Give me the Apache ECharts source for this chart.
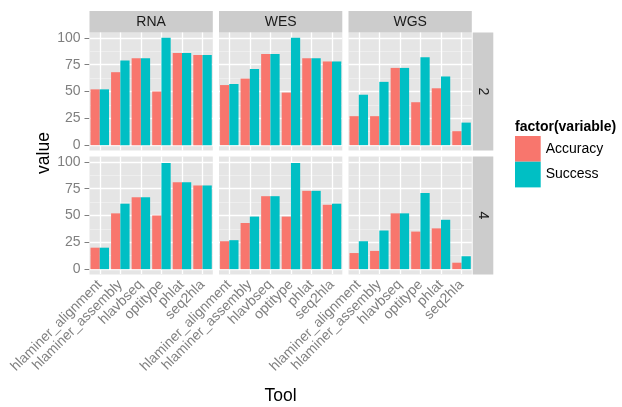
<!DOCTYPE html>
<html>
<head>
<meta charset="utf-8">
<script src="https://cdn.jsdelivr.net/npm/echarts@6/dist/echarts.min.js"></script>
<style>html,body{margin:0;padding:0;background:#fff}#c{width:622px;height:407px}</style>
</head>
<body>
<div id="c"></div>
<script>
// ---- data ----
const categories = ['hlaminer_alignment','hlaminer_assembly','hlavbseq','optitype','phlat','seq2hla'];
const colFacets = ['RNA','WES','WGS'];
const rowFacets = ['2','4'];
const seriesNames = ['Accuracy','Success'];
const yTicks = [0,25,50,75,100];
const yMinor = [12.5,37.5,62.5,87.5];

const accuracy_RNA_2 = [52,68,81,50,86,84];
const success_RNA_2  = [52,79,81,100,86,84];
const accuracy_WES_2 = [56,62,85,49,81,78];
const success_WES_2  = [57,71,85,100,81,78];
const accuracy_WGS_2 = [27,27,72,40,53,13];
const success_WGS_2  = [47,59,72,82,64,21];
const accuracy_RNA_4 = [20,52,67,50,81,78];
const success_RNA_4  = [20,61,67,99,81,78];
const accuracy_WES_4 = [26,43,68,49,73,60];
const success_WES_4  = [27,49,68,99,73,61];
const accuracy_WGS_4 = [15,17,52,35,38,6];
const success_WGS_4  = [26,36,52,71,46,12];

const panelData = {
  'RNA_2': [accuracy_RNA_2, success_RNA_2],
  'WES_2': [accuracy_WES_2, success_WES_2],
  'WGS_2': [accuracy_WGS_2, success_WGS_2],
  'RNA_4': [accuracy_RNA_4, success_RNA_4],
  'WES_4': [accuracy_WES_4, success_WES_4],
  'WGS_4': [accuracy_WGS_4, success_WGS_4]
};

// ---- layout / style ----
const FONT = '"Liberation Sans", Arial, Helvetica, sans-serif';
const colLefts = [89.5, 219, 348.5];
const colW = 123.3;
const rowTops = [32.5, 156.5];
const rowH = 118;
const stripTop = 11;
const stripRightX = 472.7, stripRightW = 20.6;
const colors = ['#F8766D', '#00BFC4'];
const gray = '#7F7F7F';

const grids = [], xAxes = [], yAxes = [], series = [], graphics = [];

rowFacets.forEach((rf, r) => {
  colFacets.forEach((cf, c) => {
    const idx = r * 3 + c;
    grids.push({
      left: colLefts[c], top: rowTops[r], width: colW, height: rowH,
      show: true, backgroundColor: '#E5E5E5', borderWidth: 0, containLabel: false
    });
    xAxes.push({
      type: 'category', gridIndex: idx, data: categories,
      axisLine: {show: false},
      axisTick: {show: r === 1, alignWithLabel: true, length: 5, lineStyle: {color: gray, width: 1}},
      axisLabel: {show: r === 1, rotate: 45, interval: 0, fontSize: 14, color: gray, fontFamily: FONT, margin: 8},
      splitLine: {show: false}
    });
    yAxes.push({
      type: 'value', gridIndex: idx, min: -5, max: 105,
      axisLine: {show: false},
      axisTick: {show: c === 0, length: 5, customValues: yTicks, lineStyle: {color: gray, width: 1}},
      axisLabel: {show: c === 0, customValues: yTicks, fontSize: 14, color: gray, fontFamily: FONT, margin: 9},
      splitLine: {show: false}, minorSplitLine: {show: false}
    });
    const key = cf + '_' + rf;
    // grid lines (white) drawn beneath bars
    const ml = [];
    yMinor.forEach(v => ml.push({yAxis: v, lineStyle: {color: '#F4F4F4', width: 0.6, type: 'solid'}}));
    yTicks.forEach(v => ml.push({yAxis: v, lineStyle: {color: '#FFFFFF', width: 1.3, type: 'solid'}}));
    categories.forEach(cat => ml.push({xAxis: cat, lineStyle: {color: '#FFFFFF', width: 1.3, type: 'solid'}}));
    series.push({
      type: 'line', name: '_grid' + idx, xAxisIndex: idx, yAxisIndex: idx, data: [],
      silent: true, z: 1,
      markLine: {silent: true, z: 1, symbol: ['none', 'none'], label: {show: false}, animation: false, data: ml}
    });
    seriesNames.forEach((sn, s) => {
      series.push({
        type: 'bar', name: sn, xAxisIndex: idx, yAxisIndex: idx,
        data: panelData[key][s], barGap: '0%', barCategoryGap: '10%',
        itemStyle: {color: colors[s]}, z: 2, animation: false
      });
    });
  });
});

// strips
colFacets.forEach((cf, c) => {
  graphics.push({type: 'rect', shape: {x: colLefts[c], y: stripTop, width: colW, height: rowTops[0] - stripTop},
    style: {fill: '#CCCCCC'}, z: 0});
  graphics.push({type: 'text', x: colLefts[c] + colW / 2, y: (stripTop + rowTops[0]) / 2,
    style: {text: cf, fontSize: 14, fontFamily: FONT, fill: '#1A1A1A', align: 'center', verticalAlign: 'middle'}, z: 1});
});
rowFacets.forEach((rf, r) => {
  graphics.push({type: 'rect', shape: {x: stripRightX, y: rowTops[r], width: stripRightW, height: rowH},
    style: {fill: '#CCCCCC'}, z: 0});
  graphics.push({type: 'text', x: stripRightX + stripRightW / 2, y: rowTops[r] + rowH / 2, rotation: -Math.PI / 2,
    style: {text: rf, fontSize: 14, fontFamily: FONT, fill: '#1A1A1A', align: 'center', verticalAlign: 'middle'}, z: 1});
});
// axis titles
graphics.push({type: 'text', x: 44, y: 153, rotation: Math.PI / 2,
  style: {text: 'value', fontSize: 17.5, fontFamily: FONT, fill: '#000', align: 'center', verticalAlign: 'middle'}});
graphics.push({type: 'text', x: 280.5, y: 396,
  style: {text: 'Tool', fontSize: 17.5, fontFamily: FONT, fill: '#000', align: 'center', verticalAlign: 'middle'}});
// legend title
graphics.push({type: 'text', x: 515, y: 127,
  style: {text: 'factor(variable)', fontSize: 14, fontWeight: 'bold', fontFamily: FONT, fill: '#000', align: 'left', verticalAlign: 'middle'}});

const chart = echarts.init(document.getElementById('c'), null, {renderer: 'canvas'});
chart.setOption({
  animation: false,
  backgroundColor: '#FFFFFF',
  grid: grids, xAxis: xAxes, yAxis: yAxes, series: series,
  legend: {
    data: seriesNames, orient: 'vertical', left: 510, top: 131, padding: 5,
    itemWidth: 25.7, itemHeight: 25.7, itemGap: 0, icon: 'rect',
    textStyle: {fontSize: 14, fontFamily: FONT, color: '#000'}, selectedMode: false
  },
  graphic: graphics
});
</script>
</body>
</html>
